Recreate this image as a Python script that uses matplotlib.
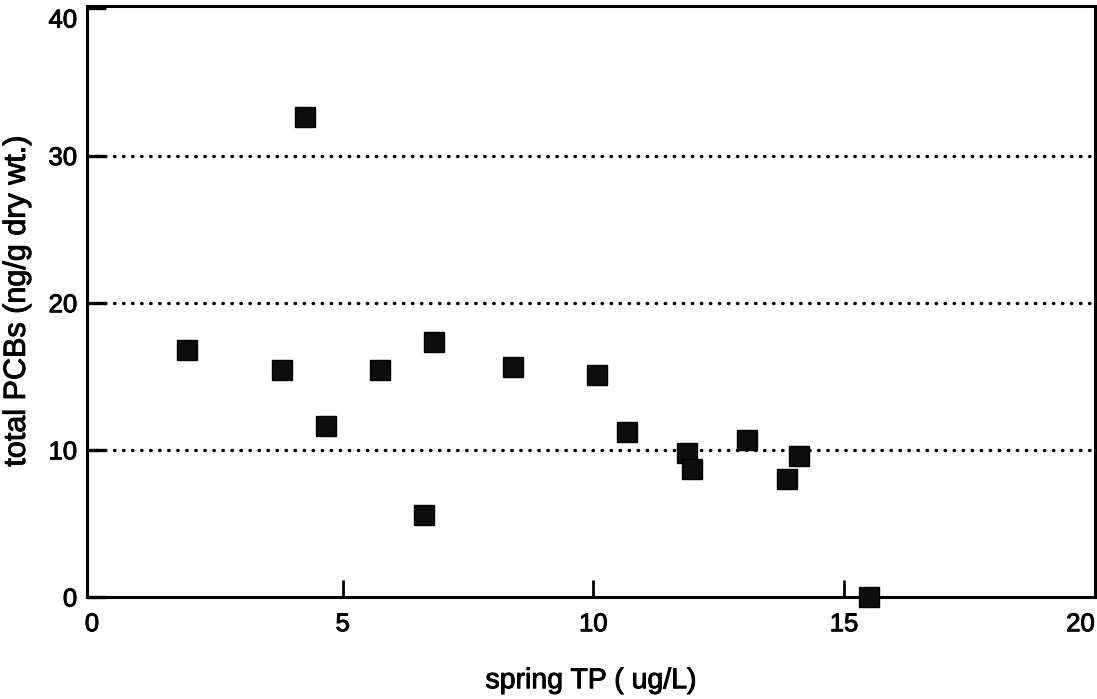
#!/usr/bin/env python3
import matplotlib
matplotlib.use('Agg')
import matplotlib.pyplot as plt
import matplotlib.patheffects as pe

# spring TP (ug/L) vs total PCBs (ng/g dry wt.)
spring_tp = [1.89, 4.24, 3.78, 4.67, 5.74, 6.82, 6.62, 8.39,
             10.08, 10.67, 11.86, 11.96, 13.07, 14.10, 13.86, 15.49]
total_pcbs = [16.8, 32.6, 15.4, 11.6, 15.4, 17.3, 5.6, 15.6,
              15.1, 11.2, 9.8, 8.7, 10.7, 9.6, 8.0, 0.0]

x_ticks = [0, 5, 10, 15, 20]
y_ticks = [0, 10, 20, 30, 40]
grid_levels = [10, 20, 30]

plt.rcParams['font.family'] = ['Liberation Sans', 'DejaVu Sans']


def main():
    fig = plt.figure(figsize=(10.97, 6.99), dpi=100)
    ax = fig.add_axes([0.0793, 0.146, 0.9187, 0.845])

    for lvl in grid_levels:
        ax.axhline(lvl, color='black', lw=2.5, linestyle=(0, (0.1, 2.5)),
                   dash_capstyle='round', zorder=1)

    ax.plot(spring_tp, total_pcbs, linestyle='none', marker='s', ms=15,
            mfc='#0d0d0d', mec='black', mew=1, zorder=3, clip_on=False)

    ax.set_xlim(-0.1, 20)
    ax.set_ylim(0, 40.15)
    ax.set_xticks(x_ticks)
    ax.set_yticks(y_ticks)

    for spine in ax.spines.values():
        spine.set_linewidth(2.2)

    ax.tick_params(axis='x', direction='in', length=12, width=2,
                   labelsize=18.5, pad=11)
    ax.tick_params(axis='y', direction='in', length=14, width=2.4,
                   labelsize=18.5, pad=7)
    # no visible tick marks at the axis ends
    xt = ax.xaxis.get_major_ticks()
    for t in (xt[0], xt[-1]):
        t.tick1line.set_visible(False)
    # end labels sit inside the frame, as in the original
    xt[-1].label1.set_horizontalalignment('right')
    xt[-1].label1.set_x(1.0)
    ax.yaxis.get_major_ticks()[-1].label1.set_verticalalignment('top')

    ax.set_xlabel('spring TP ( ug/L)', fontsize=20.5, labelpad=23)
    ax.set_ylabel('total PCBs (ng/g dry wt.)', fontsize=22, labelpad=12)

    # scanned print looks a bit heavier than the plain font
    heavy = [pe.withStroke(linewidth=0.7, foreground='black')]
    texts = ax.get_xticklabels() + ax.get_yticklabels() + \
        [ax.xaxis.label, ax.yaxis.label]
    for txt in texts:
        txt.set_path_effects(heavy)

    fig.savefig('out.png', dpi=100)


if __name__ == '__main__':
    main()
